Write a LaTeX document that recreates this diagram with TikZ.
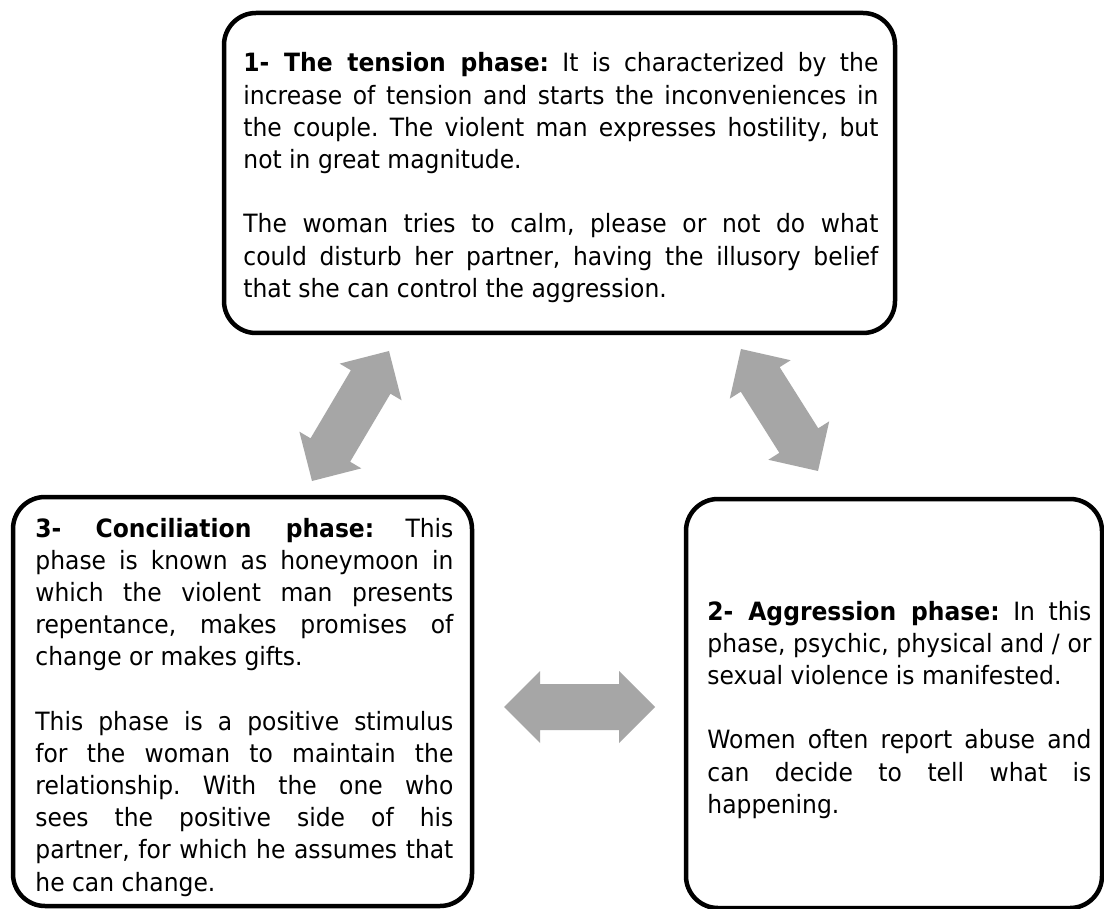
\documentclass[tikz,border=0pt]{standalone}
\usepackage{fontspec}
\setmainfont{DejaVu Sans}[FakeStretch=0.93]
\usetikzlibrary{calc}
\definecolor{arrowgray}{RGB}{166,166,166}
\frenchspacing
\newcommand\jline[1]{\hbox to\hsize{#1}}
\newcommand\eline[1]{\hbox{#1}}
\newcommand\gapline{\vskip16.1pt}
\newcommand\dblarrow[2]{%
  \fill[arrowgray] (#1)
    -- ($(#1)!18pt!(#2)!18pt!90:(#2)$)
    -- ($(#1)!18pt!(#2)!11.5pt!90:(#2)$)
    -- ($(#2)!18pt!(#1)!11.5pt!-90:(#1)$)
    -- ($(#2)!18pt!(#1)!18pt!-90:(#1)$)
    -- (#2)
    -- ($(#2)!18pt!(#1)!18pt!90:(#1)$)
    -- ($(#2)!18pt!(#1)!11.5pt!90:(#1)$)
    -- ($(#1)!18pt!(#2)!11.5pt!-90:(#2)$)
    -- ($(#1)!18pt!(#2)!18pt!-90:(#2)$)
    -- cycle;}
\tikzset{
  phasebox/.style={draw=black, line width=2.25pt, rounded corners=16pt, fill=white, inner sep=0pt},
  phasetext/.style={anchor=base west, inner sep=0pt, font=\fontsize{12.6}{16.1}\selectfont\frenchspacing}
}
\begin{document}
\begin{tikzpicture}[x=0.5pt,y=-0.5pt]
\fill[white] (0,0) rectangle (1104,909);
\useasboundingbox (0,0) rectangle (1104,909);

% boxes
\node[phasebox, minimum width=335.5pt, minimum height=160pt] (tension) at (559.5,173) {};
\node[phasebox, minimum width=229.5pt, minimum height=204.5pt] (concil) at (242.5,701.5) {};
\node[phasebox, minimum width=208pt, minimum height=204.5pt] (aggr) at (894,703.5) {};

% texts
\node[phasetext] (tensiontext) at (243,72) {\vtop{\hsize=317.5pt
\jline{\textbf{1- The tension phase:} It is characterized by the}
\jline{increase of tension and starts the inconveniences in}
\jline{the couple. The violent man expresses hostility, but}
\eline{not in great magnitude.}
\gapline
\jline{The woman tries to calm, please or not do what}
\jline{could disturb her partner, having the illusory belief}
\eline{that she can control the aggression.}}};

\node[phasetext] (conciltext) at (35,537) {\vtop{\hsize=209pt
\jline{\textbf{3- Conciliation phase:} This}
\jline{phase is known as honeymoon in}
\jline{which the violent man presents}
\jline{repentance, makes promises of}
\eline{change or makes gifts.}
\gapline
\jline{This phase is a positive stimulus}
\jline{for the woman to maintain the}
\jline{relationship. With the one who}
\jline{sees the positive side of his}
\jline{partner, for which he assumes that}
\eline{he can change.}}};

\node[phasetext] (aggrtext) at (707,620) {\vtop{\hsize=192pt
\jline{\textbf{2- Aggression phase:} In this}
\jline{phase, psychic, physical and / or}
\eline{sexual violence is manifested.}
\gapline
\jline{Women often report abuse and}
\jline{can decide to tell what is}
\eline{happening.}}};

% arrows
\coordinate (tlA) at (389,351);
\coordinate (tlB) at (312,481);
\coordinate (trA) at (741,349);
\coordinate (trB) at (818,471);
\coordinate (mA) at (504,707);
\coordinate (mB) at (655,707);
\dblarrow{tlA}{tlB}
\dblarrow{trA}{trB}
\dblarrow{mA}{mB}
\end{tikzpicture}
\end{document}
